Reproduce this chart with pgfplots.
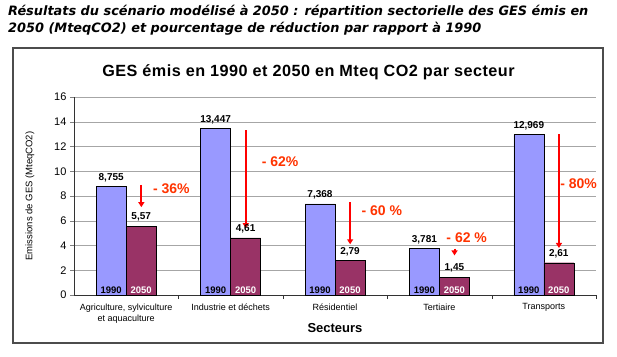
\documentclass[border=0pt]{standalone}
\usepackage{fontspec}
\setmainfont{Liberation Sans}
\newfontfamily\verdana{DejaVu Sans}
\usepackage{pgfplots}
\pgfplotsset{compat=1.18}
\usetikzlibrary{arrows.meta}
\definecolor{cA}{HTML}{9999FF}
\definecolor{cB}{HTML}{993366}
\definecolor{pct}{HTML}{FF3300}
\begin{document}
\begin{tikzpicture}
\path[use as bounding box] (0pt,0pt) rectangle (617pt,-356pt);
\node[anchor=base west, inner sep=0pt, font=\verdana\bfseries\itshape\fontsize{12.9}{14}\selectfont] at (8pt,-15pt) {Résultats du scénario modélisé à 2050 : répartition sectorielle des GES émis en};
\node[anchor=base west, inner sep=0pt, font=\verdana\bfseries\itshape\fontsize{12.9}{14}\selectfont] at (8pt,-32pt) {2050 (MteqCO2) et pourcentage de réduction par rapport à 1990};
\draw[line width=1.5pt, draw=black!70] (13pt,-48pt) rectangle (603pt,-343pt);
\node[anchor=base, inner sep=0pt, font=\bfseries\fontsize{16.2}{18}\selectfont\addfontfeature{LetterSpace=3}] at (308.5pt,-76pt) {GES émis en 1990 et 2050 en Mteq CO2 par secteur};
\begin{axis}[
  at={(74pt,-295pt)}, anchor=south west,
  scale only axis, width=522pt, height=198pt,
  xmin=-0.5, xmax=4.5, ymin=0, ymax=16,
  enlargelimits=false,
  axis x line=bottom, axis y line=left, axis line style={-, black!80},
  ybar=0pt, bar width=30pt,
  xtick={0,1,2,3,4},
  xticklabels={{Agriculture, sylviculture\\et aquaculture},{Industrie et déchets},{Résidentiel},{Tertiaire},{Transports}},
  xticklabel style={align=center, font=\fontsize{9}{11.5}\selectfont, yshift=-1pt},
  major x tick style={draw=none},
  extra x ticks={0.5,1.5,2.5,3.5,4.5},
  extra x tick labels={},
  extra x tick style={major tick length=4pt, tick align=outside, major x tick style={draw=black!80}, grid=none},
  ytick={0,2,...,16},
  yticklabel style={font=\fontsize{11}{13}\selectfont},
  /pgf/number format/assume math mode=true,
  tick align=outside, major tick length=4pt,
  ymajorgrids, grid style={black!35},
  xlabel={Secteurs}, ylabel={Emissions de GES (MteqCO2)},
  every axis x label/.style={at={(axis description cs:0.5,0)}, yshift=-33pt, anchor=center, font=\bfseries\fontsize{13}{15}\selectfont},
  every axis y label/.style={at={(axis description cs:0,0.5)}, xshift=-44pt, rotate=90, anchor=center, font=\fontsize{9.5}{11}\selectfont},
  nodes near coords, point meta=explicit symbolic,
  every node near coord/.append style={font=\bfseries\fontsize{10}{11}\selectfont, text=black, yshift=1pt},
]
\addplot[fill=cA, draw=black] coordinates {(0,8.755) [8,755] (1,13.447) [13,447] (2,7.368) [7,368] (3,3.781) [3,781] (4,12.969) [12,969]};
\addplot[fill=cB, draw=black] coordinates {(0,5.57) [5,57] (1,4.61) [4,61] (2,2.79) [2,79] (3,1.45) [1,45] (4,2.61) [2,61]};
\pgfplotsinvokeforeach{0,...,4}{
  \node[anchor=south, inner sep=1.5pt, font=\bfseries\fontsize{9.5}{10}\selectfont] at ([xshift=-15pt]axis cs:#1,0) {1990};
  \node[anchor=south, inner sep=1.5pt, text=white, font=\bfseries\fontsize{9.5}{10}\selectfont] at ([xshift=15pt]axis cs:#1,0) {2050};
}
\draw[red, line width=2pt, -{Triangle[width=6pt,length=5pt]}] (axis cs:0.145,8.9) -- (axis cs:0.145,7.1);
\draw[red, line width=2pt, -{Triangle[width=6pt,length=5pt]}] (axis cs:1.145,13.3) -- (axis cs:1.145,5.4);
\draw[red, line width=2pt, -{Triangle[width=6pt,length=5pt]}] (axis cs:2.145,7.5) -- (axis cs:2.145,4.1);
\draw[red, line width=2pt, -{Triangle[width=6pt,length=5pt]}] (axis cs:3.145,3.75) -- (axis cs:3.145,3.2);
\draw[red, line width=2pt, -{Triangle[width=6pt,length=5pt]}] (axis cs:4.145,13.0) -- (axis cs:4.145,3.8);
\node[anchor=west, inner sep=0pt, text=pct, font=\bfseries\fontsize{14}{16}\selectfont] at (axis cs:0.255,8.6) {- 36\%};
\node[anchor=west, inner sep=0pt, text=pct, font=\bfseries\fontsize{14}{16}\selectfont] at (axis cs:1.297,10.8) {- 62\%};
\node[anchor=west, inner sep=0pt, text=pct, font=\bfseries\fontsize{14}{16}\selectfont] at (axis cs:2.253,6.8) {- 60 \%};
\node[anchor=west, inner sep=0pt, text=pct, font=\bfseries\fontsize{14}{16}\selectfont] at (axis cs:3.066,4.6) {- 62 \%};
\node[anchor=west, inner sep=0pt, text=pct, font=\bfseries\fontsize{14}{16}\selectfont] at (axis cs:4.156,9.0) {- 80\%};
\end{axis}
\end{tikzpicture}
\end{document}
